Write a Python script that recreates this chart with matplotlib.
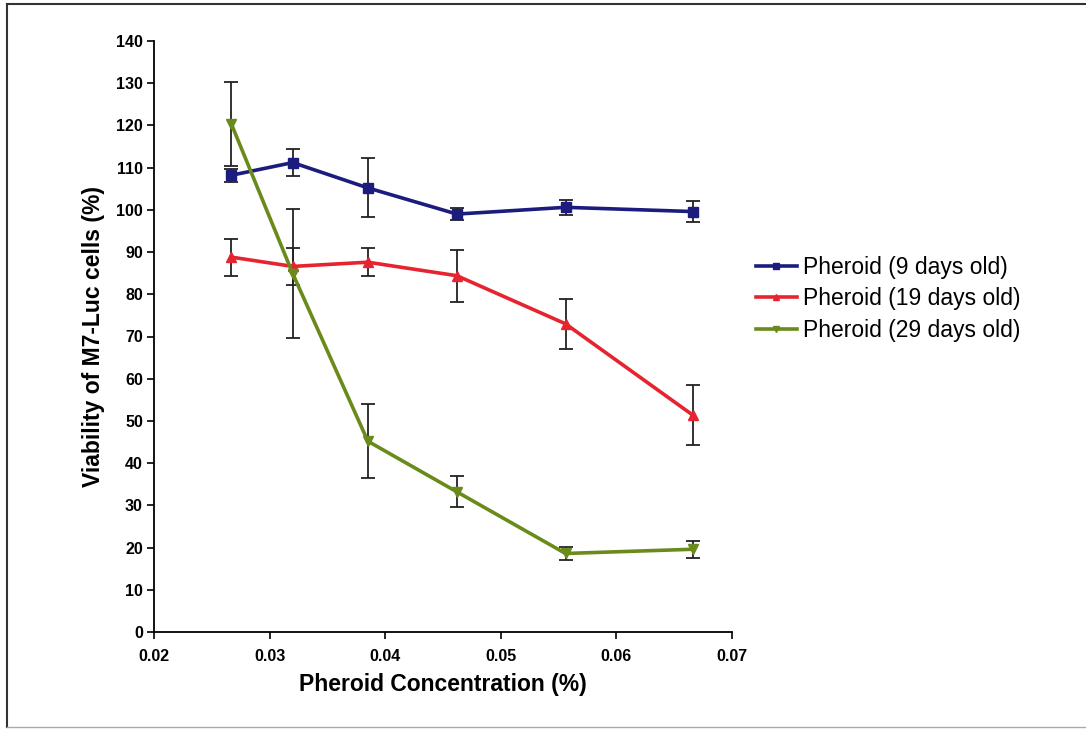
import matplotlib
matplotlib.use("Agg")
import matplotlib.pyplot as plt
from matplotlib.lines import Line2D

plt.rcParams['font.family'] = ['Liberation Sans', 'DejaVu Sans']

# concentrations (%)
conc = [0.0267, 0.0320, 0.0385, 0.0462, 0.0556, 0.0666]

# viability (%) and error bars
day9 = [108.2, 111.2, 105.2, 99.0, 100.6, 99.6]
day9_err = [1.5, 3.2, 7.0, 1.5, 1.8, 2.4]
day19 = [88.8, 86.6, 87.6, 84.4, 73.0, 51.4]
day19_err = [4.4, 4.3, 3.3, 6.2, 6.0, 7.1]
day29 = [120.3, 84.9, 45.2, 33.2, 18.6, 19.6]
day29_err = [10.0, 15.2, 8.7, 3.7, 1.5, 2.0]

labels = ['Pheroid (9 days old)', 'Pheroid (19 days old)', 'Pheroid (29 days old)']
colors = ['#1c1c7e', '#e62430', '#6b8a1c']
markers = ['s', '^', 'v']

fig = plt.figure(figsize=(10.86, 7.30), dpi=100)
ax = fig.add_axes([154/1086, 1-632/730, (732-154)/1086, (632-41)/730])

series = [(day9, day9_err), (day19, day19_err), (day29, day29_err)]
for (y, e), c, m, lab in zip(series, colors, markers, labels):
    ax.errorbar(conc, y, yerr=e, fmt='none', ecolor='#222222', elinewidth=1.3,
                capsize=5, capthick=1.3, zorder=2)
    ax.plot(conc, y, color=c, lw=2.6, marker=m, ms=6.5, label=lab, zorder=3)

ax.set_xlim(0.02, 0.07)
ax.set_ylim(0, 140)
ax.set_xticks([0.02, 0.03, 0.04, 0.05, 0.06, 0.07])
ax.set_xticklabels(['0.02', '0.03', '0.04', '0.05', '0.06', '0.07'])
ax.set_yticks(range(0, 141, 10))
for s in ['top', 'right']:
    ax.spines[s].set_visible(False)
for s in ['left', 'bottom']:
    ax.spines[s].set_linewidth(1.3)
ax.tick_params(direction='out', length=5, width=1.2, labelsize=11.5)
ax.tick_params(axis='x', pad=7)
ax.tick_params(axis='y', pad=3)
for t in ax.get_xticklabels() + ax.get_yticklabels():
    t.set_fontweight('bold')
ax.set_xlabel('Pheroid Concentration (%)', fontsize=16.5, fontweight='bold', labelpad=7)
ax.set_ylabel('Viability of M7-Luc cells (%)', fontsize=16.5, fontweight='bold', labelpad=8)

fig.legend(loc='center left', bbox_to_anchor=(735/1086, 1-299/730), frameon=False,
           fontsize=16.5, handlelength=1.8, handletextpad=0.25, labelspacing=0.38,
           markerscale=0.7)

# picture frame
fig.add_artist(Line2D([7/1086, 1], [1-4/730, 1-4/730], color='#333333', lw=1.5))
fig.add_artist(Line2D([7/1086, 7/1086], [1-4/730, 1-727/730], color='#333333', lw=1.5))
fig.add_artist(Line2D([7/1086, 1], [1-727/730, 1-727/730], color='#aaaaaa', lw=1.0))

fig.savefig('out.png', dpi=100)
